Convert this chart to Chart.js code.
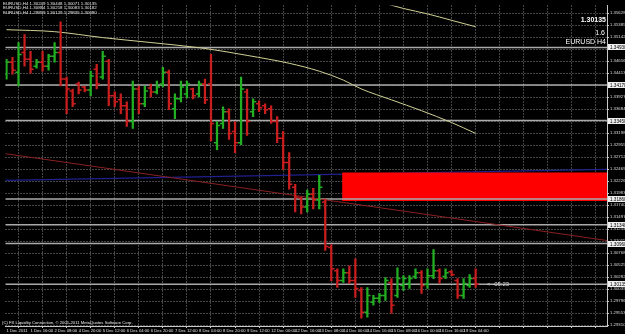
<!DOCTYPE html>
<html><head><meta charset="utf-8">
<script src="https://cdn.jsdelivr.net/npm/chart.js@4.4.1/dist/chart.umd.min.js"></script>
<style>html,body{margin:0;padding:0;background:#000;overflow:hidden}</style>
</head><body>
<canvas id="c" width="625" height="334"></canvas>
<script>
// ---- data (EURUSD H4) ----
const opens = [1.3439,1.3463,1.3443,1.3483,1.3469,1.3455,1.3463,1.3455,1.3475,1.3483,
 1.3429,1.3405,1.3419,1.3413,1.3407,1.3449,1.3433,1.3465,1.3395,1.3387,
 1.3375,1.3343,1.3409,1.3379,1.3411,1.3403,1.3419,1.3443,1.3369,1.3389,
 1.3399,1.3409,1.3399,1.3419,1.3419,1.3300,1.3339,1.3363,1.3323,1.3300,
 1.3403,1.3363,1.3379,1.3375,1.3369,1.3343,1.3309,1.3260,1.3210,1.3188,
 1.3170,1.3196,1.3184,1.3180,1.3088,1.3041,1.3021,1.3037,1.3021,1.3001,
 1.2957,1.2977,1.2985,1.2991,1.3017,1.2991,1.3011,1.3015,1.3029,1.3037,
 1.3013,1.3031,1.3041,1.3029,1.3039,1.3021,1.2991,1.3011,1.3025];
const highs = [1.3469,1.3473,1.3503,1.3519,1.3485,1.3469,1.3485,1.3479,1.3503,1.3545,
 1.3433,1.3409,1.3423,1.3415,1.3445,1.3459,1.3485,1.3469,1.3403,1.3399,
 1.3383,1.3425,1.3415,1.3415,1.3419,1.3425,1.3453,1.3447,1.3399,1.3425,
 1.3425,1.3411,1.3425,1.3429,1.3479,1.3343,1.3373,1.3369,1.3343,1.3433,
 1.3409,1.3389,1.3385,1.3379,1.3375,1.3353,1.3323,1.3280,1.3216,1.3190,
 1.3204,1.3208,1.3234,1.3186,1.3094,1.3045,1.3045,1.3051,1.3065,1.3007,
 1.3007,1.2991,1.2995,1.3027,1.3025,1.3047,1.3031,1.3031,1.3045,1.3041,
 1.3045,1.3084,1.3045,1.3045,1.3041,1.3025,1.3025,1.3033,1.3045];
const lows = [1.3429,1.3439,1.3415,1.3455,1.3441,1.3451,1.3445,1.3447,1.3463,1.3415,
 1.3359,1.3373,1.3399,1.3403,1.3395,1.3409,1.3429,1.3375,1.3373,1.3359,
 1.3333,1.3329,1.3359,1.3373,1.3393,1.3399,1.3413,1.3367,1.3349,1.3383,
 1.3391,1.3389,1.3393,1.3379,1.3304,1.3286,1.3329,1.3307,1.3280,1.3296,
 1.3315,1.3353,1.3363,1.3359,1.3339,1.3300,1.3246,1.3206,1.3160,1.3156,
 1.3160,1.3166,1.3166,1.3082,1.3021,1.3007,1.3017,1.3015,1.2987,1.2945,
 1.2947,1.2971,1.2977,1.2981,1.2955,1.2987,1.3001,1.3005,1.3025,1.2995,
 1.3005,1.3025,1.3015,1.3025,1.3031,1.2985,1.2985,1.3007,1.3007];
const closes = [1.3463,1.3447,1.3479,1.3469,1.3449,1.3463,1.3455,1.3475,1.3483,1.3429,
 1.3409,1.3379,1.3407,1.3407,1.3435,1.3419,1.3475,1.3395,1.3383,1.3375,
 1.3343,1.3409,1.3379,1.3405,1.3403,1.3413,1.3443,1.3379,1.3389,1.3413,
 1.3419,1.3395,1.3419,1.3387,1.3339,1.3335,1.3363,1.3319,1.3300,1.3409,
 1.3343,1.3383,1.3371,1.3367,1.3343,1.3309,1.3260,1.3216,1.3190,1.3170,
 1.3196,1.3184,1.3210,1.3090,1.3045,1.3021,1.3037,1.3021,1.3005,1.2957,
 1.2991,1.2985,1.2991,1.3021,1.2971,1.3025,1.3025,1.3025,1.3037,1.3011,
 1.3031,1.3041,1.3025,1.3037,1.3033,1.2991,1.3015,1.3025,1.30135];

const timeLabels = ['1 Dec 2011','1 Dec 16:00','2 Dec 08:00','4 Dec 20:00','5 Dec 12:00',
 '6 Dec 04:00','6 Dec 20:00','7 Dec 12:00','8 Dec 04:00','8 Dec 20:00','9 Dec 12:00',
 '12 Dec 00:00','12 Dec 16:00','13 Dec 08:00','14 Dec 00:00','14 Dec 16:00',
 '15 Dec 08:00','16 Dec 00:00','16 Dec 16:00','19 Dec 04:00'];
const priceTickLabels = ['1.29310','1.29553','1.29796','1.30039','1.30282','1.30525','1.30768',
 '1.31011','1.31254','1.31497','1.31740','1.31983','1.32226','1.32469','1.32712','1.32955',
 '1.33198','1.33441','1.33684','1.33927','1.34170','1.34413','1.34656','1.34899','1.35142',
 '1.35385','1.35628'];

const maSlowIdx = [0,8,16,24,33,40,47,52,56,59,64,69,74,78];
const maSlowVals = [1.3529,1.3525,1.3513,1.3503,1.3491,1.3477,1.3461,1.3445,1.3427,1.3409,1.3387,1.3365,1.3341,1.3319];
const maLongIdx = [63,66,70,74,78];
const maLongVals = [1.3582,1.3572,1.3561,1.3548,1.3535];

const hlinePrices = [1.3493,1.3417,1.3345,1.3186,1.3134,1.3096];
const currentPrice = 1.30135;
const zoneTop = 1.3240, zoneBottom = 1.3182, zoneStartIdx = 55.8;
const trendIdx = [-0.2, 99.9], trendVals = [1.3278, 1.3102];
const blueIdx = [-0.2, 99.9], blueVals = [1.3224, 1.3246];

const infoLines = ['EURUSD,H4 1.30249 1.30448 1.30071 1.30135',
                   'EURUSD,H4 1.30884 1.30218 1.30083 1.30182',
                   'EURUSD,H4 1.29859 1.30129 1.29835 1.30090'];
const copyright = '(C) FX Liquidity Connection, \u00a9 2001-2011 MetaQuotes Software Corp.';
const countdown = '<--05:23';
const noteLines = ['1.30135','1.6','EURUSD H4'];

// ---- build ----
const UP = '#22b022', DOWN = '#c81e1e';
const n = opens.length;
const barColors = opens.map((o,i)=> closes[i] >= o ? UP : DOWN);
const FONT = '"Liberation Sans", Arial, sans-serif';
const wide = [-1, 101];

const datasets = [
  {type:'bar', label:'hl', data: lows.map((l,i)=>({x:i, y:[l, highs[i]]})),
   backgroundColor: barColors, borderWidth:0, barThickness:1.6, grouped:false, order:1},
  {type:'line', label:'open', data: opens.map((o,i)=>({x:i-0.26, y:o})), showLine:false,
   pointStyle:'line', pointRadius:1.6, pointBorderWidth:1.5, pointBorderColor: barColors,
   pointBackgroundColor: barColors, order:1},
  {type:'line', label:'close', data: closes.map((c,i)=>({x:i+0.26, y:c})), showLine:false,
   pointStyle:'line', pointRadius:1.6, pointBorderWidth:1.5, pointBorderColor: barColors,
   pointBackgroundColor: barColors, order:1},
  {type:'line', label:'maSlow', data: maSlowIdx.map((x,i)=>({x, y:maSlowVals[i]})),
   borderColor:'#cfcf95', borderWidth:1, pointRadius:0, cubicInterpolationMode:'monotone', order:3},
  {type:'line', label:'maLong', data: maLongIdx.map((x,i)=>({x, y:maLongVals[i]})),
   borderColor:'#cfcf95', borderWidth:1, pointRadius:0, cubicInterpolationMode:'monotone', order:3},
  {type:'line', label:'trend', data: trendIdx.map((x,i)=>({x, y:trendVals[i]})),
   borderColor:'#8a2020', borderWidth:1, pointRadius:0, order:3},
];
hlinePrices.concat([currentPrice]).forEach(p => {
  datasets.push({type:'line', label:'h', data: wide.map(x=>({x, y:p})),
    borderColor:'#aaaaaa', borderWidth:1.5, pointRadius:0, order:4});
});
datasets.push({type:'line', label:'zoneTop', data: [zoneStartIdx, 101].map(x=>({x, y:zoneTop})),
  borderWidth:0, borderColor:'rgba(0,0,0,0)', pointRadius:0, fill:false, order:5});
datasets.push({type:'line', label:'zoneBottom', data: [zoneStartIdx, 101].map(x=>({x, y:zoneBottom})),
  borderWidth:0, borderColor:'rgba(0,0,0,0)', pointRadius:0, fill:'-1', backgroundColor:'#ff0000', order:5});
datasets.push({type:'line', label:'blue', data: blueIdx.map((x,i)=>({x, y:blueVals[i]})),
  borderColor:'#20208f', borderWidth:1.2, pointRadius:0, order:6});

const bg = {id:'bg', beforeDraw(c){const x=c.ctx; x.save(); x.fillStyle='#000'; x.fillRect(0,0,c.width,c.height); x.restore();}};

const overlay = {
  id:'overlay',
  afterDraw(chart){
    const {ctx, scales:{x, y}, chartArea:ca} = chart;
    ctx.save();
    ctx.font = '4.6px ' + FONT;
    ctx.textBaseline = 'middle'; ctx.textAlign = 'left';
    hlinePrices.concat([currentPrice]).forEach(p => {
      const py = Math.round(y.getPixelForValue(p));
      ctx.fillStyle = '#eeeeee';
      ctx.fillRect(ca.right + 1, py - 3, chart.width - ca.right - 1, 6);
      ctx.fillStyle = '#000';
      ctx.fillText(p.toFixed(5), ca.right + 3, py + 0.3);
    });
    ctx.fillStyle = '#e8e8e8';
    ctx.font = '4.4px ' + FONT;
    infoLines.forEach((t,i)=> ctx.fillText(t, 3, 3.5 + i*4.6));
    ctx.font = '4.2px ' + FONT;
    ctx.fillText(copyright, 2, ca.bottom - 3);
    ctx.font = '6px ' + FONT;
    ctx.fillStyle = '#d8d8d8';
    ctx.fillText(countdown, x.getPixelForValue(n - 1) + 11, y.getPixelForValue(currentPrice) + 0.5);
    ctx.fillStyle = '#ffffff';
    ctx.textAlign = 'right';
    ctx.font = 'bold 7px ' + FONT;
    ctx.fillText(noteLines[0], ca.right - 1, 20.5);
    ctx.font = '7px ' + FONT;
    ctx.fillText(noteLines[1], ca.right - 2, 33);
    ctx.fillText(noteLines[2], ca.right - 1, 42.5);
    ctx.restore();
  }
};

const xTickIdx = [];
for (let i = 0; i <= 96; i += 4) xTickIdx.push(i);

new Chart(document.getElementById('c'), {
  type:'bar',
  data:{datasets},
  plugins:[bg, overlay],
  options:{
    responsive:false, animation:false, events:[],
    layout:{padding:0},
    plugins:{legend:{display:false}, tooltip:{enabled:false}},
    scales:{
      x:{type:'linear', position:'bottom', min:-0.165, max:99.84, offset:false,
        afterBuildTicks: s => { s.ticks = xTickIdx.map(v=>({value:v})); },
        afterFit: s => { s.height = 8; s.paddingLeft = 0; s.paddingRight = 0; },
        ticks:{autoSkip:false, maxRotation:0, minRotation:0, align:'start', padding:0,
          color:'#e0e0e0', font:{size:4.2, family:FONT},
          callback:(v,i)=> timeLabels[i] !== undefined ? timeLabels[i] : ''},
        grid:{color:'#8a8a8a', lineWidth:1, tickLength:2, tickColor:'#c8c8c8', drawOnChartArea:true},
        border:{display:true, color:'#c8c8c8', width:1, dash:[1,2]}
      },
      y:{type:'linear', position:'right', min:1.2929, max:1.3578,
        afterBuildTicks: s => { s.ticks = priceTickLabels.map(v=>({value:parseFloat(v)})); },
        afterFit: s => { s.width = 18; s.paddingTop = 0; s.paddingBottom = 0; },
        ticks:{autoSkip:false, padding:1, color:'#dcdcdc', font:{size:4.3, family:FONT},
          callback:(v,i)=> priceTickLabels[i]},
        grid:{color:'#8a8a8a', lineWidth:1, tickLength:2, tickColor:'#c8c8c8'},
        border:{display:true, color:'#c8c8c8', width:1, dash:[1,2]}
      }
    }
  }
});
</script>
</body></html>
